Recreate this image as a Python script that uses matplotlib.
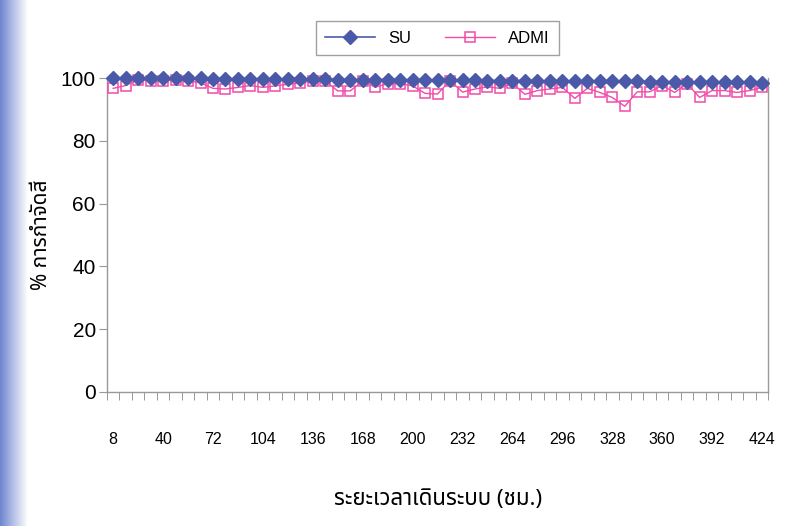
import matplotlib
matplotlib.use("Agg")
import matplotlib.pyplot as plt
import numpy as np

hours = list(range(8, 425, 8))
su = [100.0, 100.0, 100.0, 100.0, 100.0, 99.9, 99.9, 99.9, 99.8, 99.8,
      99.8, 99.7, 99.7, 99.7, 99.6, 99.6, 99.6, 99.6, 99.5, 99.5,
      99.5, 99.5, 99.4, 99.4, 99.4, 99.4, 99.3, 99.3, 99.3, 99.3,
      99.2, 99.2, 99.2, 99.2, 99.1, 99.1, 99.1, 99.0, 99.0, 99.0,
      98.9, 98.9, 98.9, 98.8, 98.8, 98.8, 98.7, 98.7, 98.7, 98.6,
      98.6, 98.6, 98.5]
admi = [96.7, 97.6, 99.5, 99.0, 99.0, 99.5, 99.0, 98.5, 96.7, 96.5,
        97.0, 97.6, 97.0, 97.5, 98.0, 98.5, 99.0, 99.0, 95.9, 95.9,
        99.0, 97.1, 98.2, 98.2, 97.5, 95.1, 94.9, 99.2, 95.5, 96.5,
        97.2, 96.7, 98.3, 94.8, 96.0, 96.5, 97.0, 93.5, 96.7, 95.4,
        93.8, 91.0, 95.6, 95.6, 97.6, 95.4, 98.2, 93.8, 96.0, 96.0,
        95.4, 96.0, 97.0]
yticks = [0, 20, 40, 60, 80, 100]
label_every = 4

thai = ['Noto Sans Thai', 'Noto Sans Thai UI', 'Loma', 'Garuda', 'Norasi',
        'Tlwg Typo', 'Waree', 'Sawasdee', 'FreeSans', 'DejaVu Sans']
plt.rcParams['font.family'] = ['Liberation Sans', 'DejaVu Sans'] + thai

su_color = '#4a5aa8'
admi_color = '#f04ca8'

fig = plt.figure(figsize=(7.92, 5.26), dpi=100)
fig.patch.set_facecolor('white')

# faint blue scan border on the left
bg = fig.add_axes([0, 0, 0.035, 1])
grad = np.linspace(1, 0, 50).reshape(1, -1)
bg.imshow(grad, aspect='auto', cmap=matplotlib.colors.LinearSegmentedColormap.from_list(
    'b', ['#ffffff', '#6f86d0']), extent=[0, 1, 0, 1])
bg.axis('off')

ax = fig.add_axes([0.135, 0.2548, 0.835, 0.5969])
x = np.arange(len(hours))
ax.plot(x, su, color=su_color, marker='D', markersize=7.2, linewidth=1.2,
        label='SU', clip_on=False, zorder=4)
ax.plot(x, admi, color=admi_color, marker='s', markersize=7, linewidth=1.0,
        markerfacecolor='none', markeredgewidth=1.1, label='ADMI',
        clip_on=False, zorder=3)

ax.set_ylim(0, 100)
ax.set_xlim(-0.5, len(hours) - 0.5)
ax.set_yticks(yticks)
ax.set_yticklabels([str(v) for v in yticks], fontsize=15)
ax.tick_params(axis='y', length=6, color='#999999', pad=2)

ax.set_xticks(x[::label_every])
ax.set_xticklabels([str(h) for h in hours[::label_every]], fontsize=11.5)
ax.tick_params(axis='x', which='major', length=0, pad=29)
ax.set_xticks(np.arange(-0.5, len(hours), 1.0), minor=True)
ax.tick_params(axis='x', which='minor', length=6, color='#888888')

for s in ['left', 'bottom', 'right']:
    ax.spines[s].set_color('#999999')
    ax.spines[s].set_linewidth(1.0)
ax.spines['top'].set_visible(False)

ax.set_ylabel('% การกำจัดสี', fontsize=15, family=thai, labelpad=6)
ax.set_xlabel('ระยะเวลาเดินระบบ (ชม.)', fontsize=16, family=thai,
              fontweight='bold', labelpad=30)

leg = fig.legend(loc='upper center', bbox_to_anchor=(0.552, 0.975), ncol=2,
                 frameon=True, fancybox=False, edgecolor='#888888',
                 fontsize=12, handlelength=3.0, columnspacing=2.0,
                 borderpad=0.55)
leg.get_frame().set_linewidth(1.0)

fig.savefig('out.png', dpi=100)
